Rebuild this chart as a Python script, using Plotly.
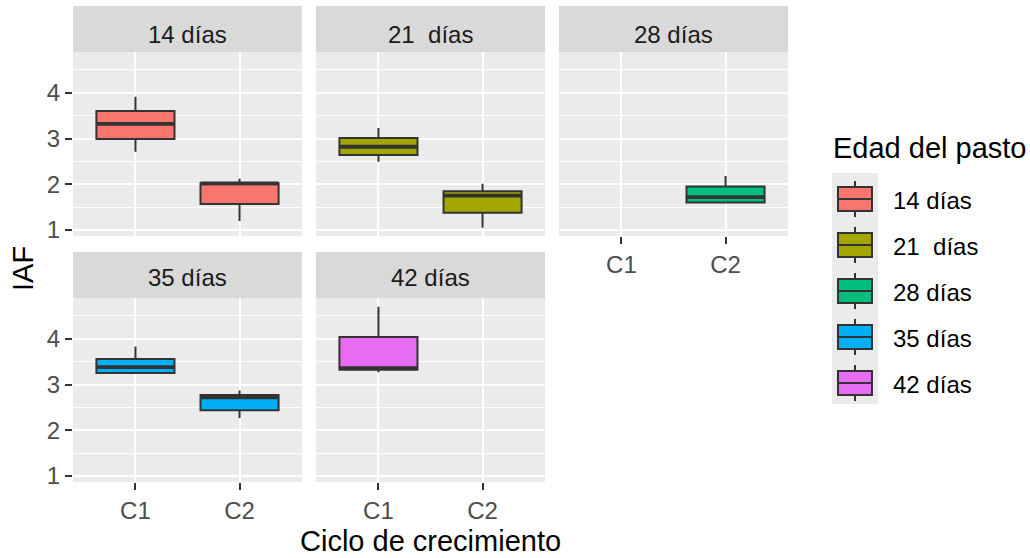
import plotly.graph_objects as go

# ---------------- data ----------------
ages = ["14 días", "21\u00a0 días", "28 días", "35 días", "42 días"]
colors = ["#F8766D", "#A3A500", "#00BF7D", "#00B0F6", "#E76BF3"]
cycles = ["C1", "C2"]
y_ticks = [1, 2, 3, 4]
y_minor = [1.5, 2.5, 3.5, 4.5]

box_x = [["C1", "C2"], ["C1", "C2"], ["C2"], ["C1", "C2"], ["C1"]]
lower = [[2.71, 1.20], [2.49, 1.05], [1.60], [3.25, 2.27], [3.27]]
q1 = [[2.99, 1.57], [2.64, 1.38], [1.60], [3.25, 2.44], [3.32]]
median = [[3.32, 2.02], [2.82, 1.75], [1.72], [3.38, 2.72], [3.36]]
q3 = [[3.60, 2.02], [3.01, 1.85], [1.95], [3.56, 2.77], [4.04]]
upper = [[3.91, 2.12], [3.23, 2.01], [2.18], [3.83, 2.87], [4.70]]

# ---------------- layout helpers ----------------
W, H = 1030, 558
FONT = "Liberation Sans, Arial, sans-serif"
SMALL = 24
BIG = 29
BOXW = 0.75
OUTLINE = "#333333"


def px(x):
    return x / W


def py(y):
    return 1 - y / H


col_px = [(73, 302), (316, 545), (559, 788)]
row_px = [(52, 236), (298, 482)]
strip_h = 46
strip_text_shift = [6, 3]

fig = go.Figure()
shapes = []
annotations = []
layout_axes = {}

for k, age in enumerate(ages):
    r, c = divmod(k, 3)
    ax = "" if k == 0 else str(k + 1)
    xpos = [cycles.index(v) for v in box_x[k]]
    fig.add_trace(go.Box(
        x=xpos, q1=q1[k], median=median[k], q3=q3[k],
        lowerfence=lower[k], upperfence=upper[k],
        width=BOXW, whiskerwidth=0,
        fillcolor=colors[k], line=dict(color=OUTLINE, width=2),
        boxpoints=False, name=age, showlegend=False,
        xaxis="x" + ax, yaxis="y" + ax,
    ))
    # thicker median segments (ggplot fatten)
    for xi, m in zip(xpos, median[k]):
        fig.add_trace(go.Scatter(
            x=[xi - BOXW / 2, xi + BOXW / 2], y=[m, m], mode="lines",
            line=dict(color=OUTLINE, width=3.8), hoverinfo="skip",
            showlegend=False, xaxis="x" + ax, yaxis="y" + ax,
        ))

    x0, x1 = col_px[c]
    y0, y1 = row_px[r]
    show_x = k >= 2
    show_y = c == 0
    layout_axes["xaxis" + ax] = dict(
        domain=[px(x0), px(x1)], anchor="y" + ax, automargin=False,
        range=[-0.6, 1.6], tickvals=list(range(len(cycles))), ticktext=cycles,
        showgrid=True, gridcolor="white", gridwidth=2, zeroline=False,
        showline=False, showticklabels=show_x,
        ticks="outside" if show_x else "", ticklen=7, tickwidth=1.5,
        ticklabelstandoff=0,
        tickcolor=OUTLINE, tickfont=dict(family=FONT, size=SMALL, color="#4D4D4D"),
        fixedrange=True,
    )
    layout_axes["yaxis" + ax] = dict(
        domain=[py(y1), py(y0)], anchor="x" + ax, automargin=False,
        range=[0.87, 4.89], tickvals=y_ticks,
        showgrid=True, gridcolor="white", gridwidth=2, zeroline=False,
        showline=False, showticklabels=show_y,
        ticks="outside" if show_y else "", ticklen=7, tickwidth=1.5,
        tickcolor=OUTLINE, tickfont=dict(family=FONT, size=SMALL, color="#4D4D4D"),
        minor=dict(tickvals=y_minor, showgrid=True, gridcolor="white",
                   gridwidth=1, ticks=""),
        fixedrange=True,
    )
    # facet strip
    shapes.append(dict(type="rect", xref="paper", yref="paper",
                       x0=px(x0), x1=px(x1), y0=py(y0), y1=py(y0 - strip_h),
                       fillcolor="#D9D9D9", line=dict(width=0), layer="below"))
    annotations.append(dict(xref="paper", yref="paper",
                            x=px((x0 + x1) / 2),
                            y=py(y0 - strip_h / 2 + strip_text_shift[r]),
                            text=age, showarrow=False, xanchor="center",
                            yanchor="middle",
                            font=dict(family=FONT, size=SMALL, color="#1A1A1A")))

# axis titles
annotations.append(dict(xref="paper", yref="paper", x=px(430), y=py(541),
                        text="Ciclo de crecimiento", showarrow=False,
                        xanchor="center", yanchor="middle",
                        font=dict(family=FONT, size=BIG, color="black")))
annotations.append(dict(xref="paper", yref="paper", x=px(23), y=py(269),
                        text="IAF", showarrow=False, textangle=-90,
                        xanchor="center", yanchor="middle",
                        font=dict(family=FONT, size=BIG, color="black")))

# legend (ggplot style)
annotations.append(dict(xref="paper", yref="paper", x=px(831), y=py(148),
                        text="Edad del pasto", showarrow=False,
                        xanchor="left", yanchor="middle",
                        font=dict(family=FONT, size=BIG, color="black")))
shapes.append(dict(type="rect", xref="paper", yref="paper",
                   x0=px(832), x1=px(878), y0=py(404), y1=py(173),
                   fillcolor="#EBEBEB", line=dict(width=0)))
for k, age in enumerate(ages):
    cy = 199 + 46 * k
    shapes.append(dict(type="rect", xref="paper", yref="paper",
                       x0=px(838), x1=px(872), y0=py(cy + 12), y1=py(cy - 12),
                       fillcolor=colors[k], line=dict(color=OUTLINE, width=2)))
    shapes.append(dict(type="line", xref="paper", yref="paper",
                       x0=px(838), x1=px(872), y0=py(cy), y1=py(cy),
                       line=dict(color=OUTLINE, width=2)))
    shapes.append(dict(type="line", xref="paper", yref="paper",
                       x0=px(855), x1=px(855), y0=py(cy - 12), y1=py(cy - 18),
                       line=dict(color=OUTLINE, width=2)))
    shapes.append(dict(type="line", xref="paper", yref="paper",
                       x0=px(855), x1=px(855), y0=py(cy + 12), y1=py(cy + 18),
                       line=dict(color=OUTLINE, width=2)))
    annotations.append(dict(xref="paper", yref="paper", x=px(891), y=py(cy + 1),
                            text=age, showarrow=False, xanchor="left",
                            yanchor="middle",
                            font=dict(family=FONT, size=SMALL, color="black")))

fig.update_layout(
    width=W, height=H, margin=dict(l=0, r=0, t=0, b=0, pad=0, autoexpand=False),
    paper_bgcolor="white", plot_bgcolor="#EBEBEB",
    showlegend=False, shapes=shapes, annotations=annotations,
    font=dict(family=FONT),
    **layout_axes,
)

fig.write_html("out.html", config={"displayModeBar": False},
               post_script="document.body.style.margin='0';"
                           "document.body.style.overflow='hidden';")
